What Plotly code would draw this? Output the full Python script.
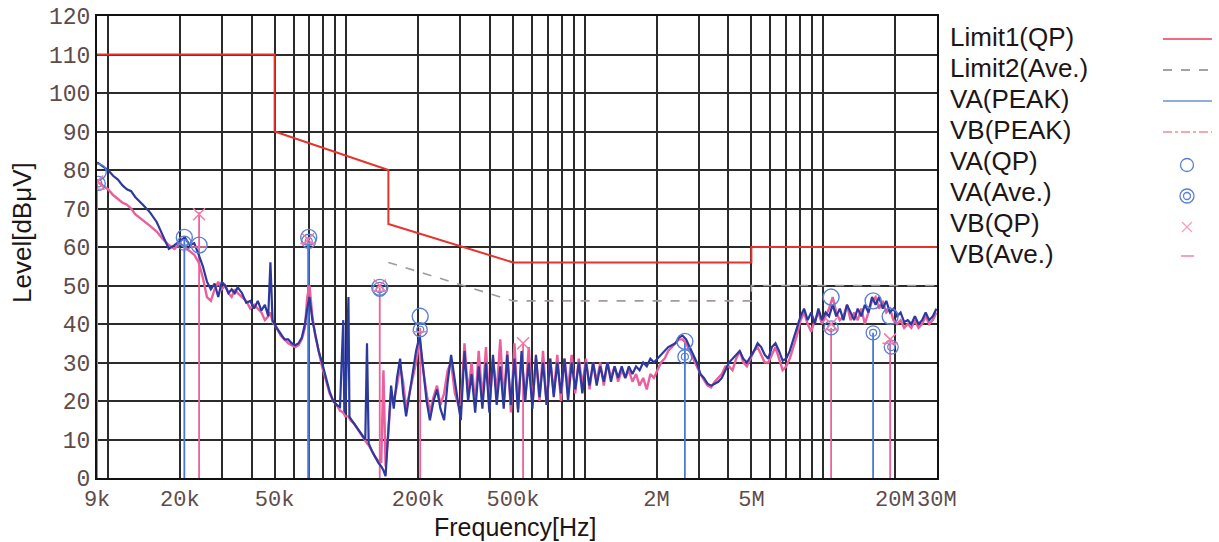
import math
import plotly.graph_objects as go

# ---------------- data ----------------
# frequency sweep, kHz (low part 9k - 300k)
freq_lo_khz = [9, 9.5, 10, 10.5, 11, 11.5, 12, 12.5, 13,
               14, 15, 16, 17, 18, 19, 20, 21, 22, 23, 24, 25, 26, 27, 28, 29, 30, 31, 32, 33, 34, 35,
               36.5, 38, 39.5, 41, 42.5, 44, 45.5, 47, 48, 49,
               51, 53, 55, 57, 59, 61, 63, 65, 67,
               68.5, 70, 72, 74, 76.5, 79, 82, 85, 88, 91, 94, 97, 98, 99,
               102, 103, 104, 108, 112, 116, 120, 122, 124, 128, 132, 136, 140, 143, 146,
               150, 154, 158, 163, 168, 173, 178, 184, 190, 196, 203, 210, 217, 224, 232, 240, 248,
               257, 266, 275, 285, 295]
va_lo = [82, 81, 80, 78.5, 77.5, 76, 75, 74.5, 73,
         71, 69, 66.5, 63, 59.5, 60.5, 61.5, 62.5, 60.5, 61, 58, 55, 51, 49, 50.5, 47, 51, 50, 48, 49, 48, 49.5,
         48, 45.5, 46, 44, 46, 43.5, 45, 42, 56, 41,
         39, 37.5, 36, 36, 35, 34.5, 35, 36.5, 40,
         44, 47, 41, 37, 33, 30, 26, 22.5, 20, 19, 18.5, 41, 17.5, 17,
         47, 16, 15.5, 14, 12.5, 11, 10, 35, 9, 7, 5.5, 4, 3, 2, 0.5,
         14, 24, 18, 26, 31, 22, 16, 22, 28, 33, 37, 28, 20, 15, 20, 23, 18,
         15, 25, 32, 26, 19]
vb_lo = [77, 76, 75, 73.5, 72.5, 71.5, 71, 70, 68.5,
         67, 65.5, 64, 62, 60.5, 59.5, 61, 60, 59, 58, 56, 52, 47, 46, 49, 51, 49, 50, 48, 47, 49, 48,
         47, 46, 44, 45, 44, 43, 41, 42, 43, 40.5,
         39, 37, 36, 35, 34.5, 34, 34.5, 36, 39,
         47, 50, 42, 37, 33, 29, 25.5, 22, 20, 19, 17.5, 17, 16.5, 16,
         16, 15.5, 15, 14, 12.5, 11, 9.5, 9, 8.5, 7, 5.5, 4.5, 4, 28, 3,
         12, 22, 20, 24, 29, 25, 18, 22, 26, 30, 36, 28, 22, 17, 21, 24, 19,
         22, 28, 30, 22, 19]

# mid part (harmonic comb 300k - 2M), kHz
freq_mid_khz = [302, 313, 324, 335, 347, 359, 372, 385, 398, 412, 427, 442, 457, 473,
                490, 507, 525, 543, 562, 582, 603, 624, 646, 668, 692, 716, 741, 767,
                794, 822, 851, 881, 912, 944, 977, 1012, 1047, 1084, 1122, 1161, 1202, 1245,
                1288, 1334, 1380, 1429, 1479, 1531, 1585, 1641, 1698, 1758, 1820, 1884, 1950, 2018]
va_mid = [15, 33, 20, 27, 17, 29, 18, 30, 17, 32, 19, 29, 18, 32,
          19, 31, 17, 33, 20, 30, 18, 32, 21, 30, 19, 31, 21, 30,
          22, 31, 20, 30, 23, 30, 22, 30, 24, 30, 24, 29, 25, 30,
          25, 29, 26, 29, 26, 29, 27, 29, 28, 30, 29, 31, 30, 31]
vb_mid = [19, 35, 22, 30, 19, 33, 20, 34, 18, 31, 22, 36, 20, 33,
          17, 35, 18, 32, 20, 34, 19, 31, 20, 33, 19, 31, 22, 32,
          20, 31, 23, 32, 22, 31, 24, 31, 23, 30, 25, 30, 24, 30,
          26, 29, 25, 28, 26, 28, 25, 27, 24, 26, 23, 27, 26, 28]

# high part (2M - 30M), kHz
freq_hi_khz = [2089, 2163, 2239, 2317, 2399, 2483, 2570, 2661, 2754, 2851,
               2951, 3055, 3162, 3273, 3388, 3508, 3631, 3758, 3890, 4027,
               4169, 4315, 4467, 4624, 4786, 4955, 5129, 5309, 5495, 5689,
               5888, 6095, 6310, 6531, 6761, 6998, 7244, 7499, 7762, 8035,
               8318, 8610, 8913, 9226, 9550, 9886, 10233, 10593, 10965, 11350,
               11749, 12162, 12589, 13032, 13490, 13964, 14454, 14962, 15488, 16032,
               16596, 17179, 17783, 18408, 19055, 19724, 20417, 21135, 21878, 22646,
               23442, 24266, 25119, 26002, 26915, 27861, 28840, 29854]
va_hi = [32, 33, 34, 34.5, 35, 36.5, 37, 36, 34, 32,
         30, 27, 26, 24.5, 24, 24.5, 25, 26, 28, 30,
         31, 32, 33, 31, 30, 31.5, 33, 35, 34, 32,
         31, 34, 35, 33, 30.5, 31, 33, 36, 39, 42,
         44, 41, 43, 40, 44, 41, 43, 42, 45, 42,
         44, 41, 45, 43, 41, 44, 42, 45, 43, 47,
         45, 47, 44, 46, 43, 44, 42, 43, 40.5, 41,
         40, 42, 40, 41, 43, 41, 42, 44]
vb_hi = [30, 31, 33, 34, 35, 36, 36, 35, 33, 31,
         29, 27, 25.5, 24, 23.5, 25, 26, 27, 29, 29,
         28, 31, 33, 30, 29, 31, 33, 34, 32, 30,
         30, 32, 34, 31, 28, 29, 31, 34, 37, 41,
         43, 40, 38, 41, 43, 40, 42, 44, 47, 43,
         41, 42, 45, 41, 43, 41, 44, 40, 43, 46,
         47, 44, 46, 43, 44, 41, 40, 41, 39, 40,
         39, 41, 39, 40, 42, 40, 41, 43]

# limit lines
limit1_khz = [9, 50, 50, 150, 150, 500, 5000, 5000, 30000]
limit1_db = [110, 110, 90, 80, 66, 56, 56, 60, 60]
limit2_khz = [150, 500, 5000, 5000, 30000]
limit2_db = [56, 46, 46, 50, 50]

# final measurement markers
va_qp_khz = [9.1, 20.9, 24.1, 69.5, 138, 204, 2630, 10800, 16200, 19100]
va_qp_db = [79.5, 62.5, 60.5, 62.5, 49.5, 42, 35.5, 47, 46, 42]
va_ave_khz = [9.1, 20.9, 69.5, 138, 204, 2630, 10800, 16200, 19300]
va_ave_db = [76.5, 61, 61.5, 49, 38.5, 31.5, 39, 37.7, 34]
vb_qp_khz = [9.0, 24.1, 69.0, 138, 551, 10800, 19100]
vb_qp_db = [77, 68.5, 62, 50, 35, 40, 36]
vb_ave_khz = [9.0, 24.1, 69.0, 138, 204, 10800, 19100]
vb_ave_db = [75, 60, 61, 48.5, 38, 38.5, 35]

# marker drop lines
va_drop_khz = [20.9, 69.5, 2630, 16200]
va_drop_db = [62.5, 62.5, 35.5, 37.7]
vb_drop_khz = [9.0, 24.1, 69.0, 138, 204, 551, 10800, 19100]
vb_drop_db = [76.5, 69, 62, 49.5, 39, 35, 39, 36]

# axis ticks
x_label_khz = [9, 20, 50, 200, 500, 2000, 5000, 20000, 30000]
x_label_text = ["9k", "20k", "50k", "200k", "500k", "2M", "5M", "20M", "30M"]
y_ticks = [0, 10, 20, 30, 40, 50, 60, 70, 80, 90, 100, 110, 120]

legend_names = ["Limit1(QP)", "Limit2(Ave.)", "VA(PEAK)", "VB(PEAK)",
                "VA(QP)", "VA(Ave.)", "VB(QP)", "VB(Ave.)"]

# ---------------- build ----------------
assert len(freq_lo_khz) == len(va_lo) == len(vb_lo)
assert len(freq_mid_khz) == len(va_mid) == len(vb_mid)
assert len(freq_hi_khz) == len(va_hi) == len(vb_hi)

def hz(lst):
    return [v * 1000.0 for v in lst]

freq_hz = hz(freq_lo_khz + freq_mid_khz + freq_hi_khz)
va_peak = va_lo + va_mid + va_hi
vb_peak = vb_lo + vb_mid + vb_hi

def drops(fk, lv):
    xs, ys = [], []
    for f, l in zip(fk, lv):
        xs += [f * 1000.0, f * 1000.0, None]
        ys += [0, l, None]
    return xs, ys

C_LIM1 = "#e8322c"
C_LIM2 = "#a39a9a"
C_VA = "#2c3a9e"
C_VB = "#ea5f9c"
C_VA_MK = "#5a80d4"
C_VB_MK = "#f07aa8"

fig = go.Figure()
fig.add_trace(go.Scatter(x=hz(limit1_khz), y=limit1_db, mode="lines",
                         line=dict(color=C_LIM1, width=2)))
fig.add_trace(go.Scatter(x=hz(limit2_khz), y=limit2_db, mode="lines",
                         line=dict(color=C_LIM2, width=1.6, dash="dash")))
dx, dy = drops(vb_drop_khz, vb_drop_db)
fig.add_trace(go.Scatter(x=dx, y=dy, mode="lines", line=dict(color="#f0609c", width=1.8)))
dx, dy = drops(va_drop_khz, va_drop_db)
fig.add_trace(go.Scatter(x=dx, y=dy, mode="lines", line=dict(color="#4a78d8", width=1.8)))
fig.add_trace(go.Scatter(x=freq_hz, y=vb_peak, mode="lines",
                         line=dict(color=C_VB, width=2.4)))
fig.add_trace(go.Scatter(x=freq_hz, y=va_peak, mode="lines",
                         line=dict(color=C_VA, width=2.2)))
fig.add_trace(go.Scatter(x=hz(va_qp_khz), y=va_qp_db, mode="markers",
                         marker=dict(symbol="circle-open", size=16, color=C_VA_MK,
                                     line=dict(width=1.4, color=C_VA_MK))))
fig.add_trace(go.Scatter(x=hz(va_ave_khz), y=va_ave_db, mode="markers",
                         marker=dict(symbol="circle-open", size=14, color=C_VA_MK,
                                     line=dict(width=1.3, color=C_VA_MK))))
fig.add_trace(go.Scatter(x=hz(va_ave_khz), y=va_ave_db, mode="markers",
                         marker=dict(symbol="circle-open", size=7, color=C_VA_MK,
                                     line=dict(width=1.2, color=C_VA_MK))))
fig.add_trace(go.Scatter(x=hz(vb_qp_khz), y=vb_qp_db, mode="markers",
                         marker=dict(symbol="x-thin-open", size=12, color=C_VB_MK,
                                     line=dict(width=1.5, color=C_VB_MK))))
fig.add_trace(go.Scatter(x=hz(vb_ave_khz), y=vb_ave_db, mode="markers",
                         marker=dict(symbol="line-ew-open", size=11, color=C_VB_MK,
                                     line=dict(width=1.5, color=C_VB_MK))))

# grid positions on the log axis (1..9 x each decade)
grid_hz = []
for dec in [1e3, 1e4, 1e5, 1e6, 1e7]:
    for m in range(1, 10):
        v = m * dec
        if 9e3 - 1 <= v <= 3e7 + 1:
            grid_hz.append(v)
lab = {round(k * 1000): t for k, t in zip(x_label_khz, x_label_text)}
grid_text = [lab.get(round(v), "") for v in grid_hz]

TICK_FONT = dict(family="Liberation Mono", size=22, color="#5e4c4a")
fig.update_xaxes(type="log", range=[math.log10(9e3) - 0.0005, math.log10(3e7) + 0.0005],
                 tickmode="array", tickvals=grid_hz, ticktext=grid_text, tickangle=0,
                 showgrid=True, gridcolor="#2b2b2b", gridwidth=1.5,
                 showline=True, linecolor="#111111", linewidth=2, mirror=True,
                 ticks="", tickfont=TICK_FONT, zeroline=False, automargin=False)
fig.update_yaxes(range=[0, 120], tickmode="array", tickvals=y_ticks,
                 ticktext=[str(v) for v in y_ticks],
                 showgrid=True, gridcolor="#2b2b2b", gridwidth=1.5,
                 showline=True, linecolor="#111111", linewidth=2, mirror=True,
                 ticks="", tickfont=dict(family="Liberation Mono", size=23, color="#5e4c4a"),
                 zeroline=False, automargin=False)

PL, PR, PT, PB = 97, 937, 16, 478
def px(x):
    return (x - PL) / (PR - PL)
def py(y):
    return (PB - y) / (PB - PT)

TXT = dict(family="Liberation Sans, Arial, sans-serif", size=26, color="#1e1616")
ann = [
    dict(text="Frequency[Hz]", x=px(515), y=py(527), xref="paper", yref="paper",
         xanchor="center", yanchor="middle", showarrow=False,
         font=dict(family="Liberation Sans, Arial, sans-serif", size=25, color="#1e1616")),
    dict(text="Level[dBμV]", x=px(22), y=py(233), xref="paper", yref="paper",
         xanchor="center", yanchor="middle", showarrow=False, font=TXT, textangle=-90),
]
shapes = []
for i, name in enumerate(legend_names):
    ty = 37 + 31 * i
    ann.append(dict(text=name, x=px(948), y=py(ty), xref="paper", yref="paper",
                    xanchor="left", yanchor="middle", showarrow=False, font=TXT))
    sy = ty + 2
    if i == 0:
        shapes.append(dict(type="line", xref="paper", yref="paper", x0=px(1163), x1=px(1212),
                           y0=py(sy), y1=py(sy), line=dict(color="#f06a82", width=2)))
    elif i == 1:
        shapes.append(dict(type="line", xref="paper", yref="paper", x0=px(1163), x1=px(1212),
                           y0=py(sy), y1=py(sy), line=dict(color="#8a8282", width=1.3, dash="dash")))
    elif i == 2:
        shapes.append(dict(type="line", xref="paper", yref="paper", x0=px(1163), x1=px(1212),
                           y0=py(sy), y1=py(sy), line=dict(color="#6a8fd4", width=1.4)))
    elif i == 3:
        shapes.append(dict(type="line", xref="paper", yref="paper", x0=px(1163), x1=px(1212),
                           y0=py(sy), y1=py(sy), line=dict(color="#f08aa0", width=1.4, dash="dashdot")))
    elif i == 4:
        r = 6.5
        shapes.append(dict(type="circle", xref="paper", yref="paper",
                           x0=px(1187 - r), x1=px(1187 + r), y0=py(sy + 2 - r), y1=py(sy + 2 + r),
                           line=dict(color=C_VA_MK, width=1.3)))
    elif i == 5:
        for r in (7, 3.5):
            shapes.append(dict(type="circle", xref="paper", yref="paper",
                               x0=px(1187 - r), x1=px(1187 + r), y0=py(sy + 2 - r), y1=py(sy + 2 + r),
                               line=dict(color=C_VA_MK, width=1.3)))
    elif i == 6:
        for (a, b, c, d) in [(1182, sy - 3, 1192, sy + 7), (1182, sy + 7, 1192, sy - 3)]:
            shapes.append(dict(type="line", xref="paper", yref="paper", x0=px(a), x1=px(c),
                               y0=py(b), y1=py(d), line=dict(color="#f4a0b8", width=1.2)))
    elif i == 7:
        shapes.append(dict(type="line", xref="paper", yref="paper", x0=px(1181), x1=px(1194),
                           y0=py(sy), y1=py(sy), line=dict(color="#f07aa8", width=1.4)))

fig.update_layout(width=1219, height=542, margin=dict(l=PL, r=1219 - PR, t=PT, b=542 - PB),
                  paper_bgcolor="white", plot_bgcolor="white", showlegend=False,
                  annotations=ann, shapes=shapes)

fig.write_html("out.html")
